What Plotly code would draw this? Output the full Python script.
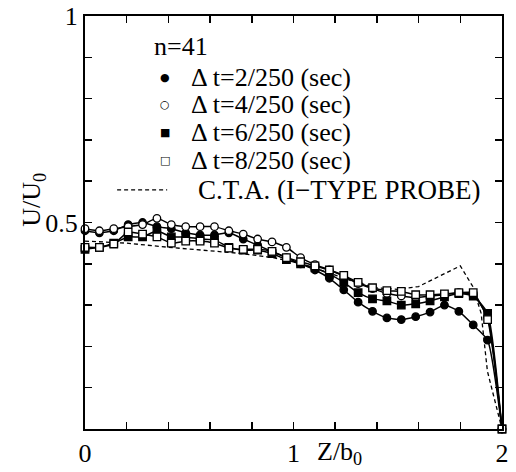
import plotly.graph_objects as go

# measurement positions Z/b0
z = [0.0, 0.069, 0.138, 0.207, 0.276, 0.345, 0.414, 0.483, 0.552, 0.621,
     0.690, 0.759, 0.828, 0.897, 0.966, 1.034, 1.103, 1.172, 1.241, 1.310,
     1.379, 1.448, 1.517, 1.586, 1.655, 1.724, 1.793, 1.862, 1.931, 2.0]

u_dt2 = [0.480, 0.475, 0.480, 0.495, 0.500, 0.490, 0.485, 0.475, 0.470, 0.470,
         0.475, 0.460, 0.445, 0.430, 0.415, 0.400, 0.385, 0.365, 0.337, 0.307,
         0.285, 0.269, 0.265, 0.272, 0.283, 0.300, 0.285, 0.252, 0.215, 0.0]
u_dt4 = [0.485, 0.480, 0.485, 0.490, 0.495, 0.510, 0.495, 0.490, 0.490, 0.490,
         0.480, 0.472, 0.460, 0.453, 0.440, 0.415, 0.398, 0.385, 0.370, 0.352,
         0.340, 0.328, 0.322, 0.318, 0.322, 0.325, 0.330, 0.325, 0.270, 0.0]
u_dt6 = [0.435, 0.440, 0.450, 0.465, 0.465, 0.480, 0.465, 0.465, 0.460, 0.458,
         0.440, 0.433, 0.433, 0.425, 0.410, 0.400, 0.390, 0.375, 0.355, 0.330,
         0.315, 0.310, 0.300, 0.303, 0.310, 0.320, 0.328, 0.322, 0.280, 0.0]
u_dt8 = [0.440, 0.440, 0.448, 0.477, 0.472, 0.465, 0.450, 0.455, 0.455, 0.450,
         0.438, 0.435, 0.435, 0.430, 0.415, 0.405, 0.395, 0.385, 0.372, 0.355,
         0.342, 0.335, 0.333, 0.325, 0.325, 0.327, 0.330, 0.330, 0.265, 0.0]

z_cta = [0.0, 0.2, 0.4, 0.6, 0.75, 0.9, 1.0, 1.1, 1.2, 1.3, 1.4, 1.5, 1.6,
         1.7, 1.8, 1.86, 1.9, 1.93, 2.0]
u_cta = [0.455, 0.450, 0.440, 0.432, 0.425, 0.415, 0.405, 0.390, 0.372, 0.355,
         0.342, 0.338, 0.345, 0.370, 0.395, 0.345, 0.280, 0.140, 0.0]

legend_title = "n=41"
names = ["\u0394 t=2/250 (sec)", "\u0394 t=4/250 (sec)",
         "\u0394 t=6/250 (sec)", "\u0394 t=8/250 (sec)"]
legend_glyphs = ["\u25CF", "\u25CB", "\u25A0", "\u25A1"]
cta_name = "C.T.A. (I\u2212TYPE PROBE)"

FONT = "Liberation Serif"
series = [u_dt2, u_dt4, u_dt6, u_dt8]
symbols = ["circle", "circle", "square", "square"]
fills = ["black", "white", "black", "white"]

fig = go.Figure()
fig.add_trace(go.Scatter(
    x=z_cta, y=u_cta, mode="lines", showlegend=False,
    line=dict(color="black", width=1.3, dash="4px,3px"),
))
for u, sym, fc, nm in zip(series, symbols, fills, names):
    fig.add_trace(go.Scatter(
        x=z, y=u, mode="lines+markers", name=nm, showlegend=False, cliponaxis=False,
        line=dict(color="black", width=1.5, shape="spline", smoothing=0.5),
        marker=dict(symbol=sym, size=7.5, color=fc, line=dict(color="black", width=1.3)),
    ))

axis_common = dict(
    showline=True, linewidth=2, linecolor="black", mirror="ticks",
    ticks="inside", ticklen=7, tickwidth=1.5, tickcolor="black",
    showgrid=False, zeroline=False, automargin=False,
    tickfont=dict(family=FONT, size=26, color="black"),
)
fig.update_xaxes(range=[0, 2], tickvals=[0, 1, 2], ticktext=["0", "1", "2"],
                 minor=dict(dtick=0.2, ticks="inside", ticklen=7, tickwidth=1.5,
                            tickcolor="black", showgrid=False),
                 **axis_common)
fig.update_yaxes(range=[0, 1], tickvals=[0.5, 1], ticktext=["0.5", "1"],
                 minor=dict(dtick=0.1, ticks="inside", ticklen=7, tickwidth=1.5,
                            tickcolor="black", showgrid=False),
                 **axis_common)

# axis titles
fig.add_annotation(text="Z/b<sub>0</sub>", xref="paper", yref="paper",
                   x=0.61, y=-0.058, xanchor="center", yanchor="middle",
                   showarrow=False, font=dict(family=FONT, size=26, color="black"))
fig.add_annotation(text="U/U<sub>0</sub>", xref="paper", yref="paper",
                   x=-0.125, y=0.555, xanchor="center", yanchor="middle", textangle=-90,
                   showarrow=False, font=dict(family=FONT, size=26, color="black"))

# legend (drawn in the plot corner)
fig.add_annotation(text=legend_title, xref="paper", yref="paper", x=0.160, y=0.925,
                   xanchor="left", yanchor="middle", showarrow=False,
                   font=dict(family=FONT, size=26, color="black"))
row_y = [0.852, 0.785, 0.717, 0.649]
for nm, gl, ry in zip(names, legend_glyphs, row_y):
    fig.add_annotation(text=gl, xref="paper", yref="paper", x=0.192, y=ry,
                       xanchor="center", yanchor="middle", showarrow=False,
                       font=dict(family="DejaVu Sans", size=11, color="black"))
    fig.add_annotation(text=nm, xref="paper", yref="paper", x=0.250, y=ry,
                       xanchor="left", yanchor="middle", showarrow=False,
                       font=dict(family=FONT, size=26, color="black"))
fig.add_annotation(text=cta_name, xref="paper", yref="paper", x=0.266, y=0.579,
                   xanchor="left", yanchor="middle", showarrow=False,
                   font=dict(family=FONT, size=27, color="black"))
fig.add_shape(type="line", xref="paper", yref="paper", x0=0.077, x1=0.197,
              y0=0.579, y1=0.579, line=dict(color="black", width=1.3, dash="4px,3px"))

fig.update_layout(
    width=516, height=472,
    margin=dict(l=85, r=14, t=16, b=43),
    plot_bgcolor="white", paper_bgcolor="white",
    font=dict(family=FONT, size=24, color="black"),
    showlegend=False,
)

fig.write_html("out.html", config={"displayModeBar": False, "staticPlot": True},
               post_script="document.body.style.margin='0';document.body.style.overflow='hidden';")
